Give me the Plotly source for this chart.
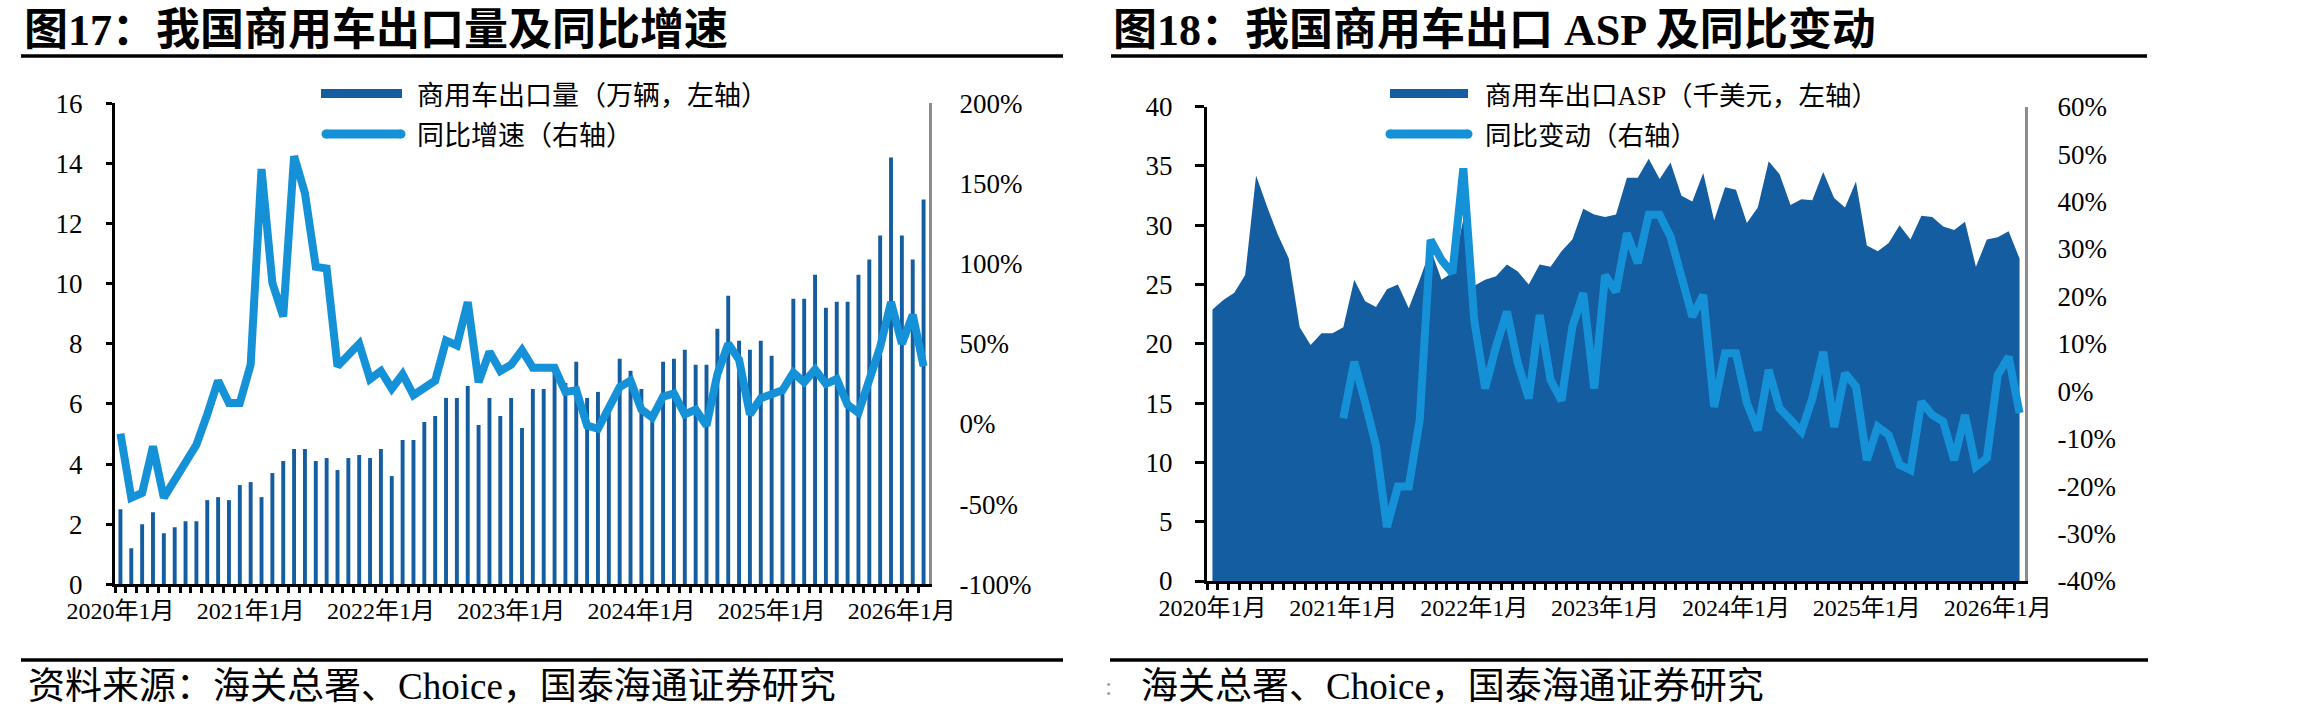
import plotly.graph_objects as go

W, H = 2302, 716

def px(x):
    return x / W

def py(y):
    return 1 - y / H

# ---------------- data ----------------
months = [f"{y}年{m}月" for y in range(2020, 2027) for m in range(1, 13)][:75]
tick_text = [m if m.endswith("年1月") else "" for m in months]

# 商用车出口量（万辆）
export_volume = [2.5, 1.2, 2.0, 2.4, 1.7, 1.9, 2.1, 2.1, 2.8, 2.9,
                 2.8, 3.3, 3.4, 2.9, 3.7, 4.1, 4.5, 4.5, 4.1, 4.2,
                 3.8, 4.2, 4.3, 4.2, 4.5, 3.6, 4.8, 4.8, 5.4, 5.6,
                 6.2, 6.2, 6.6, 5.3, 6.2, 5.6, 6.2, 5.2, 6.5, 6.5,
                 7.2, 6.7, 7.4, 6.2, 6.4, 5.8, 7.5, 7.1, 6.5, 5.5,
                 7.4, 7.5, 7.8, 7.3, 7.3, 8.5, 9.6, 8.1, 7.8, 8.1,
                 7.6, 6.6, 9.5, 9.5, 10.3, 9.2, 9.4, 9.4, 10.3, 10.8,
                 11.6, 14.2, 11.6, 10.8, 12.8]
# 同比增速（%）
export_yoy = [-6, -46, -43, -14, -46, -35, -24, -13, 6, 27,
              13, 13, 37, 159, 88, 67, 167, 144, 98, 97,
              36, 43, 50, 28, 33, 22, 31, 18, 22, 27,
              52, 49, 76, 26, 45, 33, 37, 46, 35, 35,
              35, 20, 21, -1, -3, 10, 23, 27, 9, 4,
              17, 19, 6, 9, -1, 31, 50, 40, 6, 16,
              18, 21, 32, 26, 34, 25, 28, 12, 7, 28,
              48, 76, 50, 68, 36]
# 商用车出口ASP（千美元）
asp = [22.9, 23.7, 24.3, 25.8, 34.2, 31.6, 29.2, 27.2, 21.4, 19.9,
       20.9, 20.9, 21.4, 25.4, 23.6, 23.1, 24.6, 25.0, 23.0, 25.4,
       28.0, 25.4, 26.0, 30.5, 24.9, 25.4, 25.7, 26.7, 26.1, 25.0,
       26.7, 26.5, 27.8, 28.8, 31.4, 30.9, 30.7, 30.9, 34.0, 34.0,
       35.6, 33.9, 35.3, 32.5, 32.0, 34.4, 30.4, 33.2, 33.0, 30.2,
       31.5, 35.4, 34.3, 31.7, 32.2, 32.1, 34.5, 32.3, 31.5, 33.7,
       28.3, 27.8, 28.5, 30.0, 28.8, 30.8, 30.7, 29.9, 29.6, 30.3,
       26.5, 28.8, 29.0, 29.5, 27.2]
# ASP同比变动（%）
asp_yoy = [None] * 12 + [
    -5.7, 6.2, -2.3, -11.5, -28.6, -20.1, -20.1, -6.1,
    31.9, 27.7, 24.9, 47.0, 15.0, 0.6, 9.4, 16.8, 5.9, -1.5,
    16.1, 2.4, -2.0, 13.6, 20.7, 0.6, 24.5, 21.0, 33.3, 27.0,
    37.2, 37.2, 32.6, 24.2, 15.7, 20.3, -3.3, 8.0, 8.0, -2.5,
    -8.2, 4.5, -3.6, -6.0, -8.5, -1.5, 8.3, -7.5, 3.8, 1.0,
    -14.5, -7.5, -9.2, -15.5, -16.6, -2.2, -5.0, -6.4, -14.5, -5.0,
    -15.9, -14.1, 3.4, 7.3, -4.6]

left_ticks = [0, 2, 4, 6, 8, 10, 12, 14, 16]
right_ticks_1 = [-100, -50, 0, 50, 100, 150, 200]
right_text_1 = ["-100%", "-50%", "0%", "50%", "100%", "150%", "200%"]
asp_ticks = [0, 5, 10, 15, 20, 25, 30, 35, 40]
right_ticks_2 = [-40, -30, -20, -10, 0, 10, 20, 30, 40, 50, 60]
right_text_2 = ["-40%", "-30%", "-20%", "-10%", "0%", "10%", "20%", "30%", "40%", "50%", "60%"]

DARK = "#145DA0"
LIGHT = "#1591D8"
SERIF = "Liberation Serif, Noto Sans CJK SC"
CJK = "Liberation Serif, Noto Sans CJK SC"

fig = go.Figure()

fig.add_trace(go.Bar(x=months, y=export_volume, marker_color=DARK, marker_line_width=0,
                     width=0.36, xaxis="x", yaxis="y", name="商用车出口量（万辆，左轴）"))
fig.add_trace(go.Scatter(x=months, y=export_yoy, mode="lines", line=dict(color=LIGHT, width=8),
                         xaxis="x", yaxis="y2", name="同比增速（右轴）"))
fig.add_trace(go.Scatter(x=months, y=asp, mode="lines", fill="tozeroy", fillcolor=DARK,
                         line=dict(color=DARK, width=0), xaxis="x2", yaxis="y3",
                         name="商用车出口ASP（千美元，左轴）"))
fig.add_trace(go.Scatter(x=months, y=asp_yoy, mode="lines", line=dict(color=LIGHT, width=8),
                         connectgaps=False, xaxis="x2", yaxis="y4", name="同比变动（右轴）"))

ydom = [py(584.3), py(103.3)]
ydom2 = [py(581.0), py(106.7)]

xcommon = dict(type="category", categoryorder="array", categoryarray=months,
               range=[-0.5, 74.5], tickmode="array", tickvals=months, ticktext=tick_text,
               tickson="boundaries", ticks="outside", ticklen=6, tickwidth=3, tickcolor="black",
               showline=True, linecolor="black", linewidth=3, showgrid=False, zeroline=False,
               tickangle=0, ticklabelstandoff=3, automargin=False,
               tickfont=dict(family=SERIF, size=24, color="black"))

fig.update_layout(
    template="none",
    width=W, height=H, margin=dict(l=0, r=0, t=0, b=0, pad=0), autosize=False,
    paper_bgcolor="white", plot_bgcolor="white", showlegend=False,
    xaxis=dict(domain=[px(115), px(929)], anchor="y", **xcommon),
    yaxis=dict(domain=ydom, anchor="x", range=[0, 16], tickmode="array", tickvals=left_ticks,
               ticks="outside", ticklen=6, tickwidth=3, tickcolor="black", automargin=False,
               showline=True, linecolor="black", linewidth=3, showgrid=False, zeroline=False,
               ticklabelstandoff=18, tickfont=dict(family=SERIF, size=27, color="black")),
    yaxis2=dict(overlaying="y", side="right", anchor="x", range=[-100, 200], tickmode="array",
                tickvals=right_ticks_1, ticktext=right_text_1, ticks="", showline=True,
                linecolor="#8C8C8C", linewidth=3, showgrid=False, zeroline=False, automargin=False,
                ticklabelstandoff=22, tickfont=dict(family=SERIF, size=27, color="black")),
    xaxis2=dict(domain=[px(1207), px(2025)], anchor="y3", **xcommon),
    yaxis3=dict(domain=ydom2, anchor="x2", range=[0, 40], tickmode="array", tickvals=asp_ticks,
                ticks="outside", ticklen=9, tickwidth=3, tickcolor="black", automargin=False,
                showline=True, linecolor="black", linewidth=3, showgrid=False, zeroline=False,
                ticklabelstandoff=17, tickfont=dict(family=SERIF, size=27, color="black")),
    yaxis4=dict(overlaying="y3", side="right", anchor="x2", range=[-40, 60], tickmode="array",
                tickvals=right_ticks_2, ticktext=right_text_2, ticks="", showline=True,
                linecolor="#8C8C8C", linewidth=3, showgrid=False, zeroline=False, automargin=False,
                ticklabelstandoff=24, tickfont=dict(family=SERIF, size=27, color="black")),
)

shapes = []
def hline(x0, x1, y, w, color="black"):
    shapes.append(dict(type="line", xref="paper", yref="paper", x0=px(x0), x1=px(x1),
                       y0=py(y), y1=py(y), line=dict(color=color, width=w)))

def rect(x0, x1, y0, y1, color):
    shapes.append(dict(type="rect", xref="paper", yref="paper", x0=px(x0), x1=px(x1),
                       y0=py(y1), y1=py(y0), fillcolor=color, line=dict(width=0)))

def circle(cx, cy, r, color):
    shapes.append(dict(type="circle", xref="paper", yref="paper", x0=px(cx - r), x1=px(cx + r),
                       y0=py(cy + r), y1=py(cy - r), fillcolor=color, line=dict(width=0)))

# rules
hline(21, 1063, 56, 3.5)
hline(1111, 2147, 56, 3.5)
hline(21, 1063, 660, 3.5)
hline(1110, 2148, 660, 3.5)

# legend keys
rect(321, 402, 89, 98, DARK)
hline(326, 401, 134, 9, LIGHT)
circle(326, 134, 4.5, LIGHT)
circle(401, 134, 4.5, LIGHT)
rect(1390, 1468, 89, 98, DARK)
hline(1390, 1468, 134, 9, LIGHT)
circle(1390, 134, 4.5, LIGHT)
circle(1468, 134, 4.5, LIGHT)

fig.update_layout(shapes=shapes)

def text(x, y, s, size, family=CJK, anchor="left", color="black"):
    fig.add_annotation(x=px(x), y=py(y), xref="paper", yref="paper", text=s, showarrow=False,
                       xanchor=anchor, yanchor="middle",
                       font=dict(family=family, size=size, color=color))

text(22, 30, "<b>图17：我国商用车出口量及同比增速</b>", 44)
text(1111, 30, "<b>图18：我国商用车出口 ASP 及同比变动</b>", 44)

text(415, 96, "商用车出口量（万辆，左轴）", 27)
text(415, 136, "同比增速（右轴）", 27)
text(1483, 96, "商用车出口ASP（千美元，左轴）", 26.5)
text(1483, 136, "同比变动（右轴）", 26.5)

text(26, 686, "资料来源：海关总署、Choice，国泰海通证券研究", 37)
text(1139, 686, "海关总署、Choice，国泰海通证券研究", 37)
text(1108, 686, ":", 26, family=SERIF, anchor="center", color="#A0A0A0")

fig.write_html("out.html")
